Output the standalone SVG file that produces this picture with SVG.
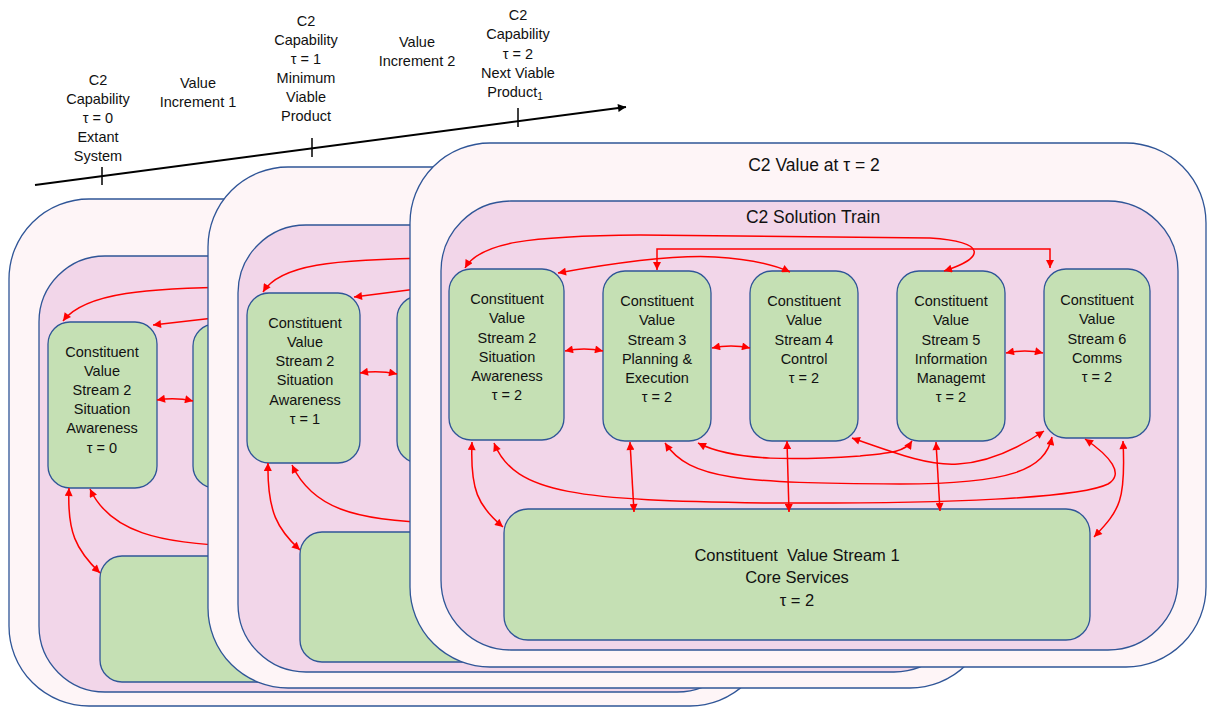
<svg xmlns="http://www.w3.org/2000/svg" width="1207" height="707" viewBox="0 0 1207 707">
  <style>
    .outer { fill: #FEF5F7; stroke: #2F5597; stroke-width: 1.3; }
    .inner { fill: #F2D6E9; stroke: #2F5597; stroke-width: 1.3; }
    .node { fill: #C5E0B4; stroke: #2F5597; stroke-width: 1.3; }
    .t { font-family: "Liberation Sans", Arial, sans-serif; font-size: 14.5px; fill: #111; text-anchor: middle; }
    .tc { font-family: "Liberation Sans", Arial, sans-serif; font-size: 16.5px; fill: #111; text-anchor: middle; }
    .title { font-family: "Liberation Sans", Arial, sans-serif; font-size: 17.5px; fill: #111; text-anchor: middle; }
    .link { fill: none; stroke: #FF0000; stroke-width: 1.5; }
    .two { marker-start: url(#ah); marker-end: url(#ah); }
    .one { marker-end: url(#ah); }
    .first { marker-start: url(#ah); }
  </style>
  <defs>
    <marker id="ah" viewBox="0 0 10 10" refX="10" refY="5" markerWidth="9" markerHeight="8" markerUnits="userSpaceOnUse" orient="auto-start-reverse">
      <path d="M0,0 L10,5 L0,10 z" fill="#FF0000"/>
    </marker>
    <marker id="tl" viewBox="0 0 10 10" refX="10" refY="5" markerWidth="10" markerHeight="8" markerUnits="userSpaceOnUse" orient="auto">
      <path d="M0,0 L10,5 L0,10 z" fill="#000"/>
    </marker>
  </defs>

  <!-- timeline -->
  <g id="timeline">
    <line x1="35" y1="185" x2="626" y2="107" stroke="#000" stroke-width="2" marker-end="url(#tl)"/>
    <line x1="102" y1="167" x2="102" y2="185" stroke="#000" stroke-width="1.5"/>
    <line x1="312" y1="138" x2="312" y2="157" stroke="#000" stroke-width="1.5"/>
    <line x1="518" y1="108" x2="518" y2="127" stroke="#000" stroke-width="1.5"/>
    <text class="t" x="98"><tspan x="98" y="85">C2</tspan><tspan x="98" y="104">Capability</tspan><tspan x="98" y="123">τ = 0</tspan><tspan x="98" y="142">Extant</tspan><tspan x="98" y="161">System</tspan></text>
    <text class="t"><tspan x="198" y="88">Value</tspan><tspan x="198" y="107">Increment 1</tspan></text>
    <text class="t"><tspan x="306" y="26">C2</tspan><tspan x="306" y="45">Capability</tspan><tspan x="306" y="64">τ = 1</tspan><tspan x="306" y="83">Minimum</tspan><tspan x="306" y="102">Viable</tspan><tspan x="306" y="121">Product</tspan></text>
    <text class="t"><tspan x="417" y="47">Value</tspan><tspan x="417" y="66">Increment 2</tspan></text>
    <text class="t"><tspan x="518" y="20">C2</tspan><tspan x="518" y="39">Capability</tspan><tspan x="518" y="59">τ = 2</tspan><tspan x="518" y="78">Next Viable</tspan><tspan x="515" y="97">Product<tspan font-size="10" dy="3">1</tspan></tspan></text>
  </g>

  <!-- value at tau = 0 (rear) -->
  <g id="value-t0">
    <rect class="outer" x="9" y="199" width="761" height="507" rx="80" ry="80"/>
    <rect class="inner" x="39" y="256" width="704" height="436" rx="66" ry="66"/>
  </g>
  <g id="cvs2-t0">
    <rect class="node" x="48" y="322" width="109" height="166" rx="22" ry="22"/>
    <text class="t"><tspan x="102" y="357">Constituent</tspan><tspan x="102" y="376">Value</tspan><tspan x="102" y="395">Stream 2</tspan><tspan x="102" y="414">Situation</tspan><tspan x="102" y="433">Awareness</tspan><tspan x="102" y="453">τ = 0</tspan></text>
  </g>
  <g id="cvs3-t0">
    <rect class="node" x="193" y="324" width="108" height="164" rx="22" ry="22"/>
  </g>
  <g id="cvs1-t0">
    <rect class="node" x="100" y="556" width="586" height="126" rx="22" ry="22"/>
  </g>
  <g id="connectors-t0">
    <path class="link one" d="M240,287 C150,288 85,292 63,321"/>
    <path class="link one" d="M240,315 L153,325"/>
    <path class="link two" d="M157,400 Q175,397 193,401"/>
    <path class="link two" d="M69,488 C67,532 76,550 100,573"/>
    <path class="link first" d="M90,489 C110,532 160,544 240,546"/>
  </g>

  <!-- value at tau = 1 (middle) -->
  <g id="value-t1">
    <rect class="outer" x="208" y="167" width="782" height="521" rx="80" ry="80"/>
    <rect class="inner" x="238" y="225" width="724" height="447" rx="68" ry="68"/>
  </g>
  <g id="cvs2-t1">
    <rect class="node" x="247" y="293" width="113" height="170" rx="22" ry="22"/>
    <text class="t"><tspan x="305" y="328">Constituent</tspan><tspan x="305" y="347">Value</tspan><tspan x="305" y="366">Stream 2</tspan><tspan x="305" y="385">Situation</tspan><tspan x="305" y="405">Awareness</tspan><tspan x="305" y="424">τ = 1</tspan></text>
  </g>
  <g id="cvs3-t1">
    <rect class="node" x="397" y="296" width="108" height="167" rx="22" ry="22"/>
  </g>
  <g id="cvs1-t1">
    <rect class="node" x="300" y="532" width="586" height="130" rx="22" ry="22"/>
  </g>
  <g id="connectors-t1">
    <path class="link one" d="M440,258 C330,259 280,265 263,292"/>
    <path class="link one" d="M440,286 L354,297"/>
    <path class="link two" d="M360,373 Q378,370 397,374"/>
    <path class="link two" d="M268,463 C267,512 278,530 300,550"/>
    <path class="link first" d="M292,465 C312,507 352,521 440,523"/>
  </g>

  <!-- value at tau = 2 (front) -->
  <g id="value-t2">
    <rect class="outer" x="410" y="143" width="796" height="524" rx="80" ry="80"/>
    <text class="title" x="814" y="171">C2 Value at τ = 2</text>
  </g>
  <g id="solution-train">
    <rect class="inner" x="441" y="201" width="737" height="449" rx="70" ry="70"/>
    <text class="title" x="813" y="223">C2 Solution Train</text>
  </g>
  <g id="cvs2">
    <rect class="node" x="449" y="269" width="115" height="171" rx="22" ry="22"/>
    <text class="t"><tspan x="507" y="304">Constituent</tspan><tspan x="507" y="323">Value</tspan><tspan x="507" y="343">Stream 2</tspan><tspan x="507" y="362">Situation</tspan><tspan x="507" y="381">Awareness</tspan><tspan x="507" y="400">τ = 2</tspan></text>
  </g>
  <g id="cvs3">
    <rect class="node" x="603" y="271" width="108" height="170" rx="22" ry="22"/>
    <text class="t"><tspan x="657" y="306">Constituent</tspan><tspan x="657" y="325">Value</tspan><tspan x="657" y="345">Stream 3</tspan><tspan x="657" y="364">Planning &amp;</tspan><tspan x="657" y="383">Execution</tspan><tspan x="657" y="402">τ = 2</tspan></text>
  </g>
  <g id="cvs4">
    <rect class="node" x="750" y="271" width="108" height="170" rx="22" ry="22"/>
    <text class="t"><tspan x="804" y="306">Constituent</tspan><tspan x="804" y="325">Value</tspan><tspan x="804" y="345">Stream 4</tspan><tspan x="804" y="364">Control</tspan><tspan x="804" y="383">τ = 2</tspan></text>
  </g>
  <g id="cvs5">
    <rect class="node" x="897" y="271" width="108" height="170" rx="22" ry="22"/>
    <text class="t"><tspan x="951" y="306">Constituent</tspan><tspan x="951" y="325">Value</tspan><tspan x="951" y="345">Stream 5</tspan><tspan x="951" y="364">Information</tspan><tspan x="951" y="383">Managemt</tspan><tspan x="951" y="402">τ = 2</tspan></text>
  </g>
  <g id="cvs6">
    <rect class="node" x="1044" y="269" width="106" height="169" rx="22" ry="22"/>
    <text class="t"><tspan x="1097" y="305">Constituent</tspan><tspan x="1097" y="324">Value</tspan><tspan x="1097" y="344">Stream 6</tspan><tspan x="1097" y="363">Comms</tspan><tspan x="1097" y="382">τ = 2</tspan></text>
  </g>
  <g id="cvs1">
    <rect class="node" x="504" y="509" width="586" height="131" rx="24" ry="24"/>
    <text class="tc"><tspan x="797" y="561" xml:space="preserve">Constituent  Value Stream 1</tspan><tspan x="797" y="583">Core Services</tspan><tspan x="797" y="606">τ = 2</tspan></text>
  </g>
  <g id="connectors">
    <!-- across the top -->
    <path class="link two" d="M465,268 C480,242 530,236 640,235 L930,238 C988,242 985,258 944,271"/>
    <path class="link two" d="M657,270 L657,249 L1050,249 L1050,268"/>
    <path class="link two" d="M558,273 C620,262 680,255 715,257 C750,259 775,265 790,272"/>
    <!-- neighbours -->
    <path class="link two" d="M565,351 Q584,347 603,351"/>
    <path class="link two" d="M712,348 Q731,344 750,348"/>
    <path class="link two" d="M1006,353 Q1025,349 1043,353"/>
    <!-- below the streams -->
    <path class="link two" d="M472,442 C470,490 478,506 503,527"/>
    <path class="link two" d="M494,443 C515,495 580,500 766,503 C950,504 1080,498 1108,484 C1125,474 1110,456 1085,439"/>
    <path class="link two" d="M630,442 L634,512"/>
    <path class="link two" d="M665,443 C690,480 740,483 900,484 C1010,484 1045,470 1052,437"/>
    <path class="link two" d="M698,443 C735,462 800,460 860,456 C890,453 905,452 912,441"/>
    <path class="link two" d="M787,441 L789,512"/>
    <path class="link two" d="M852,438 C900,455 930,466 958,464 C990,462 1020,447 1044,431"/>
    <path class="link two" d="M936,442 L940,511"/>
    <path class="link two" d="M1123,441 C1126,500 1120,510 1094,537"/>
  </g>
</svg>
